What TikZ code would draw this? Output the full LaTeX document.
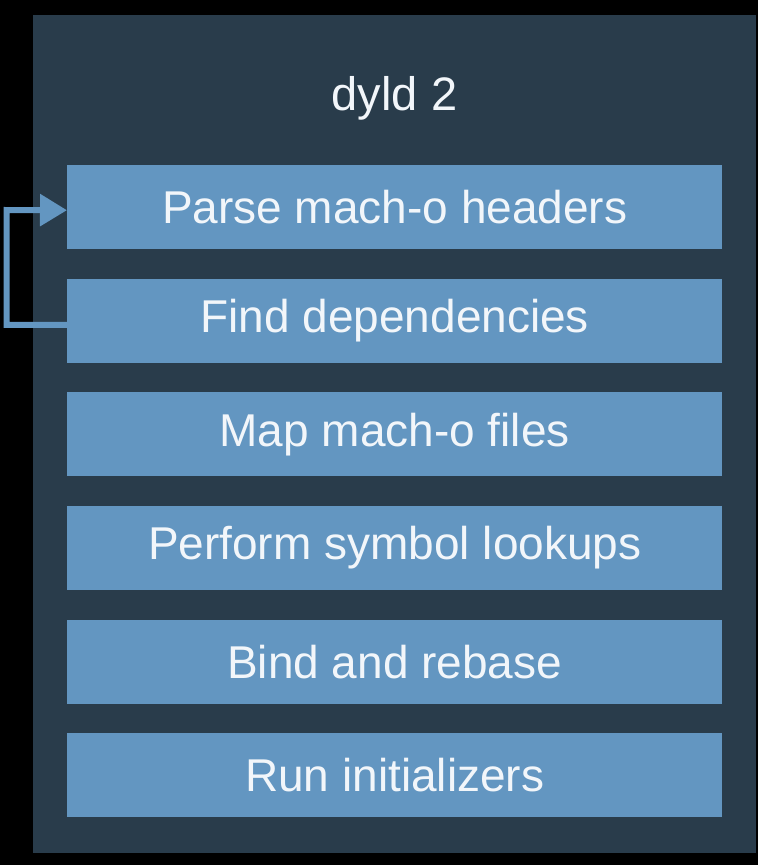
\documentclass[tikz,border=0pt]{standalone}
\usepackage{fontspec}
\setmainfont{Liberation Sans}
\usetikzlibrary{arrows.meta}
\definecolor{bgpanel}{HTML}{293C4B}
\definecolor{boxblue}{HTML}{6396C1}
\definecolor{txtwhite}{HTML}{F2F6FA}
\begin{document}
\begin{tikzpicture}[x=1pt,y=-1pt,
  stepbox/.style={fill=boxblue, draw=none, minimum width=655pt, minimum height=84pt,
    inner sep=0pt, text=txtwhite, font=\fontsize{46}{54}\selectfont, anchor=north west},
  loopline/.style={draw=boxblue, line width=6pt, -{Triangle[length=27pt,width=31pt]}}]
\useasboundingbox (0,0) rectangle (758,865);
\fill[black] (0,0) rectangle (758,865);
\fill[bgpanel] (33,15) rectangle (756,853);
\node[text=txtwhite, font=\fontsize{47}{55}\selectfont] (title) at (394.5,98) {dyld 2};
\node[stepbox] (p1) at (67,165) {Parse mach-o headers};
\node[stepbox] (p2) at (67,278.6) {Find dependencies};
\node[stepbox] (p3) at (67,392.2) {Map mach-o files};
\node[stepbox] (p4) at (67,505.8) {Perform symbol lookups};
\node[stepbox] (p5) at (67,619.4) {Bind and rebase};
\node[stepbox] (p6) at (67,733) {Run initializers};
\draw[loopline] ([yshift=-4pt]p2.west) -| (6.5,210) -- ([yshift=-3pt]p1.west);
\end{tikzpicture}
\end{document}
